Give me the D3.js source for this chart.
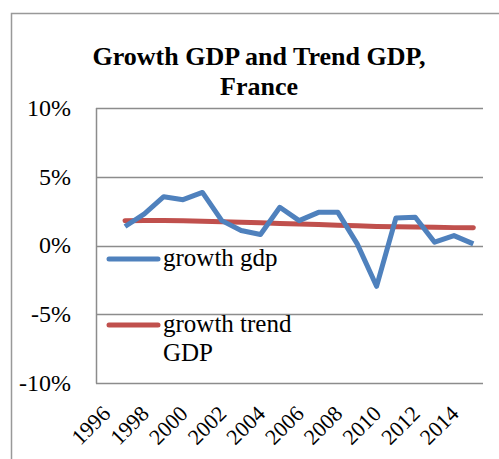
<!DOCTYPE html>
<html>
<head>
<meta charset="utf-8">
<script src="https://cdn.jsdelivr.net/npm/d3@7"></script>
<style>
body { margin: 0; background: #fff; }
</style>
</head>
<body>
<div id="chart"></div>
<script>
var width = 499, height = 459;

// data (percent)
var years = d3.range(1996, 2016).map(String);
var growthYears = years.slice(1);
var growthGdp = [1.38, 2.3, 3.55, 3.33, 3.86, 1.81, 1.09, 0.8, 2.78, 1.81, 2.41, 2.41, 0.12, -2.97, 2.0, 2.05, 0.24, 0.72, 0.12];
var trendGdp = [1.8, 1.81, 1.81, 1.8, 1.77, 1.73, 1.69, 1.65, 1.6, 1.56, 1.52, 1.48, 1.43, 1.39, 1.36, 1.34, 1.32, 1.3, 1.29];
var yTicks = [-10, -5, 0, 5, 10];
var xTickLabels = ["1996", "1998", "2000", "2002", "2004", "2006", "2008", "2010", "2012", "2014"];

var plot = {left: 96, right: 483, top: 108, bottom: 383};
var serif = "'Liberation Serif', 'Times New Roman', serif";

var svg = d3.select("#chart").append("svg").attr("width", width).attr("height", height);

// outer frame
svg.append("path").attr("d", "M11.5," + height + "V13.5H" + width)
	.attr("fill", "none").attr("stroke", "#999").attr("stroke-width", 1.5);

var x = d3.scaleBand().domain(years).range([plot.left, plot.right]);
var y = d3.scaleLinear().domain([-10, 10]).range([plot.bottom, plot.top]);

// gridlines
svg.append("g").selectAll("line").data(yTicks).enter().append("line")
	.attr("x1", plot.left).attr("x2", plot.right)
	.attr("y1", function(d) { return Math.round(y(d)) + .5; })
	.attr("y2", function(d) { return Math.round(y(d)) + .5; })
	.attr("stroke", "#8c8c8c").attr("stroke-width", 1.5);

svg.append("line").attr("x1", plot.left + .5).attr("x2", plot.left + .5)
	.attr("y1", plot.top).attr("y2", plot.bottom + .5)
	.attr("stroke", "#8c8c8c").attr("stroke-width", 1.5);

// y labels
svg.append("g").selectAll("text").data(yTicks).enter().append("text")
	.attr("x", 71).attr("y", function(d) { return y(d); })
	.attr("dy", "0.33em").attr("text-anchor", "end")
	.style("font-family", serif).style("font-size", "24px")
	.text(function(d) { return d + "%"; });

// x labels, rotated
svg.append("g").selectAll("text").data(xTickLabels).enter().append("text")
	.attr("transform", function(d) {
		return "translate(" + (x(d) + x.bandwidth() / 2 + 6) + ",415)rotate(-45)"; })
	.attr("text-anchor", "end")
	.style("font-family", serif).style("font-size", "22px")
	.text(function(d) { return d; });

var line = d3.line()
	.x(function(d, i) { return x(growthYears[i]) + x.bandwidth() / 2; })
	.y(function(d) { return y(d); });

svg.append("path").datum(trendGdp).attr("d", line)
	.attr("fill", "none").attr("stroke", "#c0504d").attr("stroke-width", 5)
	.attr("stroke-linecap", "round").attr("stroke-linejoin", "round");

svg.append("path").datum(growthGdp).attr("d", line)
	.attr("fill", "none").attr("stroke", "#4f81bd").attr("stroke-width", 5)
	.attr("stroke-linejoin", "round");

// title
var title = svg.append("text").attr("text-anchor", "middle")
	.style("font-family", serif).style("font-weight", "bold")
	.style("font-size", "26px");
title.append("tspan").attr("x", 259).attr("y", 65).text("Growth GDP and Trend GDP,");
title.append("tspan").attr("x", 259).attr("y", 95).text("France");

// legend
var legend = [
	{name: ["growth gdp"], color: "#4f81bd", y: 259},
	{name: ["growth trend", "GDP"], color: "#c0504d", y: 325}
];
var lg = svg.append("g").selectAll("g").data(legend).enter().append("g");
lg.append("line").attr("x1", 109).attr("x2", 158)
	.attr("y1", function(d) { return d.y; }).attr("y2", function(d) { return d.y; })
	.attr("stroke", function(d) { return d.color; }).attr("stroke-width", 5)
	.attr("stroke-linecap", "round");
lg.append("text")
	.style("font-family", serif).style("font-size", "25px")
	.each(function(d) {
		var t = d3.select(this);
		d.name.forEach(function(s, i) {
			t.append("tspan").attr("x", 163).attr("y", d.y + 7 + i * 29).text(s);
		});
	});
</script>
</body>
</html>
